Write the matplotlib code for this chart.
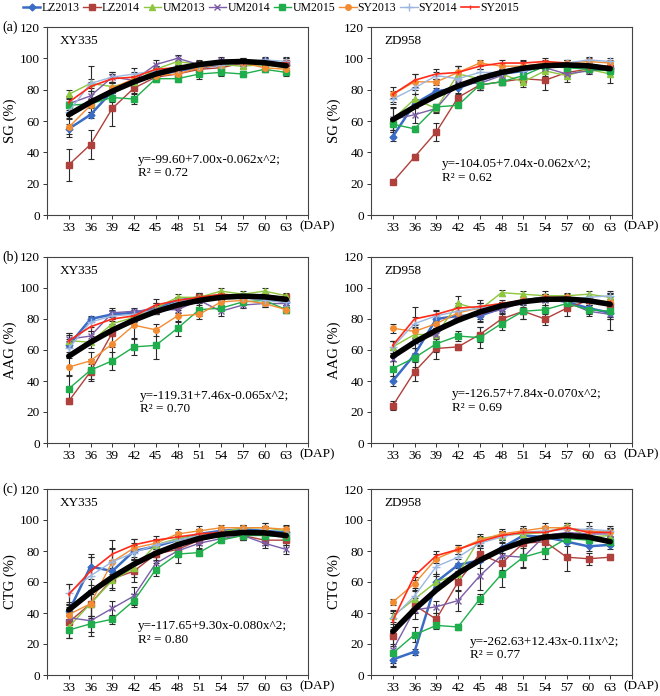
import matplotlib
matplotlib.use('Agg')
import matplotlib.pyplot as plt

plt.rcParams['font.family'] = ['Liberation Serif', 'DejaVu Serif']

# Days after pollination
dap = [33, 36, 39, 42, 45, 48, 51, 54, 57, 60, 63]

series = ['LZ2013', 'LZ2014', 'UM2013', 'UM2014', 'UM2015', 'SY2013', 'SY2014', 'SY2015']

# (a) SG - XY335
sg_xy = [
    [55, 64, 79, 85, 89, 92, 94, 96, 97, 98, 96],
    [32, 45, 68, 81, 88, 90, 93, 94, 97, 97, 97],
    [77, 84, 82, 85, 93, 98, 96, 96, 95, 96, 94],
    [71, 76, 88, 86, 96, 100, 96, 99, 97, 98, 95],
    [70, 71, 75, 74, 87, 87, 90, 91, 90, 93, 91],
    [56, 70, 81, 87, 89, 90, 94, 96, 97, 94, 93],
    [66, 84, 88, 90, 92, 93, 95, 96, 97, 99, 98],
    [72, 82, 87, 88, 93, 94, 97, 97, 97, 97, 97],
]
sg_xy_err = [
    [3, 2, 3, 3, 2, 2, 3, 2, 2, 2, 3],
    [10, 9, 11, 3, 2, 2, 3, 2, 2, 2, 3],
    [3, 3, 3, 3, 2, 2, 2, 2, 2, 2, 2],
    [4, 3, 3, 3, 3, 2, 2, 2, 2, 2, 2],
    [6, 3, 3, 3, 2, 2, 3, 2, 2, 2, 2],
    [6, 4, 3, 3, 2, 2, 3, 2, 2, 3, 3],
    [5, 11, 3, 4, 2, 2, 3, 2, 3, 2, 3],
    [4, 3, 3, 3, 2, 2, 2, 2, 3, 2, 3],
]
sg_xy_fit = [64, 72, 79, 85, 90, 93.5, 96, 97.6, 98, 97.2, 95.3]

# (a) SG - ZD958
sg_zd = [
    [50, 71, 79, 81, 86, 90, 92, 95, 95, 96, 94],
    [21, 37, 53, 75, 83, 85, 87, 86, 91, 93, 93],
    [61, 74, 68, 90, 87, 90, 85, 92, 89, 93, 90],
    [61, 64, 68, 84, 84, 89, 94, 94, 90, 92, 93],
    [58, 55, 69, 70, 83, 85, 89, 95, 94, 93, 92],
    [77, 85, 85, 91, 97, 95, 95, 97, 97, 98, 97],
    [74, 81, 89, 87, 91, 91, 92, 95, 97, 99, 98],
    [77, 86, 90, 91, 95, 97, 97, 98, 97, 94, 95],
]
sg_zd_err = [
    [3, 3, 2, 3, 2, 2, 2, 2, 2, 2, 2],
    [1, 2, 6, 2, 3, 2, 3, 6, 2, 2, 2],
    [7, 3, 2, 5, 2, 2, 3, 3, 4, 2, 6],
    [8, 5, 3, 3, 4, 2, 2, 2, 3, 2, 2],
    [4, 2, 2, 2, 3, 2, 2, 2, 2, 2, 2],
    [5, 5, 2, 4, 2, 2, 3, 2, 2, 2, 2],
    [3, 4, 2, 4, 2, 2, 2, 2, 2, 2, 2],
    [2, 4, 3, 4, 2, 2, 2, 2, 2, 2, 2],
]
sg_zd_fit = [60.8, 69, 76.2, 82.3, 87.2, 91, 93.7, 95.3, 95.8, 95.2, 93.4]

# (b) AAG - XY335
aag_xy = [
    [63, 80, 83, 84, 87, 92, 94, 95, 94, 93, 91],
    [27, 46, 71, 82, 86, 89, 94, 94, 94, 95, 94],
    [66, 65, 77, 81, 87, 94, 94, 98, 96, 98, 95],
    [67, 69, 84, 85, 86, 86, 92, 85, 89, 90, 90],
    [35, 47, 53, 62, 63, 74, 86, 87, 91, 92, 86],
    [49, 53, 64, 76, 73, 82, 83, 91, 92, 90, 86],
    [61, 78, 82, 83, 86, 91, 93, 94, 94, 92, 91],
    [66, 75, 80, 82, 89, 92, 94, 96, 95, 95, 93],
]
aag_xy_err = [
    [4, 2, 3, 2, 3, 2, 3, 2, 2, 2, 2],
    [2, 5, 9, 3, 3, 2, 3, 2, 2, 2, 2],
    [5, 4, 4, 3, 3, 2, 2, 2, 2, 2, 2],
    [4, 3, 3, 2, 3, 2, 3, 3, 2, 2, 2],
    [9, 7, 6, 5, 9, 5, 4, 2, 2, 2, 2],
    [6, 6, 9, 8, 4, 4, 3, 2, 2, 2, 2],
    [5, 3, 3, 2, 3, 2, 3, 3, 2, 2, 2],
    [4, 3, 3, 3, 4, 2, 2, 2, 2, 2, 2],
]
aag_xy_fit = [56, 65, 72.8, 79.3, 84.8, 89, 92, 94, 94.7, 94.3, 92.7]

# (b) AAG - ZD958
aag_zd = [
    [40, 57, 80, 82, 82, 87, 92, 94, 91, 87, 84],
    [24, 46, 61, 62, 70, 80, 85, 80, 87, 92, 89],
    [62, 70, 70, 90, 86, 97, 96, 95, 95, 96, 94],
    [54, 66, 70, 82, 83, 86, 91, 92, 91, 85, 83],
    [48, 55, 64, 69, 68, 77, 85, 86, 90, 86, 85],
    [74, 72, 77, 84, 87, 89, 92, 94, 94, 92, 91],
    [62, 77, 82, 85, 87, 89, 91, 93, 93, 94, 95],
    [63, 80, 83, 87, 88, 90, 92, 94, 93, 91, 91],
]
aag_zd_err = [
    [3, 4, 3, 3, 3, 2, 2, 2, 3, 2, 3],
    [3, 6, 7, 2, 5, 3, 5, 4, 5, 2, 9],
    [4, 5, 3, 5, 6, 2, 2, 3, 2, 2, 2],
    [6, 8, 4, 3, 5, 2, 3, 3, 2, 3, 3],
    [5, 6, 5, 3, 7, 4, 5, 3, 2, 3, 12],
    [3, 4, 3, 4, 3, 2, 2, 2, 2, 2, 3],
    [4, 4, 3, 3, 3, 2, 2, 2, 2, 2, 2],
    [3, 8, 3, 3, 2, 2, 2, 2, 2, 2, 2],
]
aag_zd_fit = [55.9, 65, 72.7, 79.2, 84.5, 88.5, 91.2, 92.7, 92.9, 91.8, 89.5]

# (c) CTG - XY335
ctg_xy = [
    [41, 70, 67, 80, 83, 87, 91, 93, 94, 93, 92],
    [34, 46, 62, 67, 78, 81, 87, 90, 90, 87, 87],
    [31, 46, 61, 69, 84, 88, 90, 92, 95, 95, 93],
    [37, 35, 43, 51, 72, 80, 85, 88, 90, 85, 81],
    [29, 33, 36, 48, 68, 78, 79, 87, 90, 90, 89],
    [39, 46, 73, 82, 85, 91, 93, 95, 95, 95, 94],
    [53, 64, 73, 79, 84, 87, 90, 92, 93, 92, 91],
    [52, 67, 78, 84, 87, 89, 91, 92, 92, 91, 89],
]
ctg_xy_err = [
    [5, 8, 7, 5, 3, 3, 3, 2, 2, 3, 3],
    [6, 9, 6, 7, 4, 4, 3, 2, 3, 3, 3],
    [7, 8, 6, 6, 3, 3, 3, 2, 2, 3, 3],
    [7, 10, 5, 6, 4, 4, 3, 2, 3, 3, 3],
    [5, 5, 3, 4, 4, 6, 2, 2, 3, 3, 3],
    [7, 8, 9, 6, 3, 3, 3, 2, 2, 3, 3],
    [6, 12, 8, 5, 3, 3, 3, 2, 2, 3, 3],
    [7, 9, 9, 4, 3, 3, 3, 2, 3, 5, 3],
]
ctg_xy_fit = [42, 53.3, 63.1, 71.5, 78.5, 84, 88.1, 90.7, 91.9, 91.7, 90]

# (c) CTG - ZD958
ctg_zd = [
    [10, 15, 60, 71, 74, 82, 90, 89, 86, 83, 84],
    [25, 45, 36, 60, 78, 72, 85, 86, 76, 75, 76],
    [38, 49, 60, 65, 88, 90, 91, 92, 96, 89, 90],
    [16, 42, 44, 48, 64, 77, 76, 90, 92, 91, 91],
    [14, 26, 32, 31, 49, 65, 76, 80, 88, 87, 86],
    [47, 59, 75, 81, 87, 91, 93, 95, 95, 93, 92],
    [37, 51, 70, 76, 85, 89, 92, 93, 94, 94, 93],
    [35, 64, 77, 81, 86, 90, 92, 92, 95, 92, 92],
]
ctg_zd_err = [
    [5, 2, 4, 4, 5, 3, 3, 3, 3, 3, 3],
    [6, 5, 4, 6, 4, 4, 7, 6, 9, 4, 2],
    [4, 5, 5, 4, 3, 3, 3, 3, 2, 3, 3],
    [10, 6, 4, 7, 9, 5, 6, 3, 3, 3, 3],
    [6, 5, 2, 2, 3, 8, 7, 5, 3, 3, 3],
    [2, 4, 3, 3, 3, 3, 3, 3, 3, 3, 3],
    [4, 5, 5, 4, 3, 3, 3, 3, 3, 5, 3],
    [5, 3, 3, 3, 3, 3, 3, 3, 3, 3, 3],
]
ctg_zd_fit = [28, 42.3, 54.8, 65.6, 74, 81, 86, 89, 90, 89, 86]

panel_tags = ['(a)', '(b)', '(c)']
ylabels = ['SG (%)', 'AAG (%)', 'CTG (%)']
cultivars = ['XY335', 'ZD958']
equations = [
    ['y=-99.60+7.00x-0.062x^2;\nR\u00b2 = 0.72', 'y=-104.05+7.04x-0.062x^2;\nR\u00b2 = 0.62'],
    ['y=-119.31+7.46x-0.065x^2;\nR\u00b2 = 0.70', 'y=-126.57+7.84x-0.070x^2;\nR\u00b2 = 0.69'],
    ['y=-117.65+9.30x-0.080x^2;\nR\u00b2 = 0.80', 'y=-262.63+12.43x-0.11x^2;\nR\u00b2 = 0.77'],
]
eq_pos = [[(42.5, 31), (39.8, 28)], [(42.8, 26), (41.2, 27)], [(42.6, 27), (43.7, 17)]]

data = [[sg_xy, sg_zd], [aag_xy, aag_zd], [ctg_xy, ctg_zd]]
errs = [[sg_xy_err, sg_zd_err], [aag_xy_err, aag_zd_err], [ctg_xy_err, ctg_zd_err]]
fits = [[sg_xy_fit, sg_zd_fit], [aag_xy_fit, aag_zd_fit], [ctg_xy_fit, ctg_zd_fit]]

colors = ['#3a6cc6', '#b0403c', '#8dc63f', '#7b5ea7', '#1fae4b', '#f28c33', '#9bb7e0', '#ff2a1a']
markers = ['D', 's', '^', 'x', 's', 'o', '+', '|']
msizes = [3.5, 4, 4, 4, 4.5, 4, 5.5, 3]
lwidths = [1.8, 1, 1, 1, 1, 1, 1, 1.2]

fig = plt.figure(figsize=(6.6, 6.96), dpi=100)

lefts = [47 / 660, 371 / 660]
width = 261 / 660
rows = [(1 - 215 / 696, 188 / 696), (1 - 443 / 696, 186 / 696), (1 - 675 / 696, 186 / 696)]

handles = []
for r in range(3):
    for c in range(2):
        ax = fig.add_axes([lefts[c], rows[r][0], width, rows[r][1]])
        for i in range(len(series)):
            ax.errorbar(dap, data[r][c][i], yerr=errs[r][c][i], fmt='none',
                        ecolor='#2a2a2a', elinewidth=0.8, capsize=2, capthick=0.8, zorder=2)
        for i, name in enumerate(series):
            ln, = ax.plot(dap, data[r][c][i], color=colors[i], marker=markers[i], ms=msizes[i],
                          lw=lwidths[i], mew=1, label=name, zorder=3)
            if r == 0 and c == 0:
                handles.append(ln)
        ax.plot(dap, fits[r][c], color='black', lw=4, solid_capstyle='round', zorder=4)

        ax.set_xlim(30, 66)
        ax.set_ylim(0, 120)
        ax.set_xticks(range(30, 67, 3))
        ax.set_xticklabels([''] + [str(d) for d in dap] + [''])
        ax.set_yticks(range(0, 121, 20))
        ax.tick_params(direction='out', length=3, width=0.7, labelsize=9.5, pad=2, colors='#333333',
                       labelcolor='black')
        for sp in ax.spines.values():
            sp.set_linewidth(0.8)
            sp.set_color('#444444')
        ax.set_ylabel(ylabels[r], fontsize=10.5)
        ax.yaxis.set_label_coords(-0.115, 0.5)
        ax.text(0.05, 0.925, cultivars[c], transform=ax.transAxes, fontsize=9.5, va='center')
        ax.text(eq_pos[r][c][0], eq_pos[r][c][1], equations[r][c], fontsize=9.5,
                va='center', ha='left', linespacing=1.15)
        ax.text(64.8, -3.5, '(DAP)', fontsize=9.5, va='top', ha='left', clip_on=False)
        if c == 0:
            ax.text(-0.17, 1.0, panel_tags[r], transform=ax.transAxes, fontsize=10, va='center')

fig.legend(handles=handles, loc='center', bbox_to_anchor=(0.41, 0.988), ncol=8, frameon=False,
           fontsize=8.5, handlelength=1.5, handletextpad=0.1, columnspacing=0.3, borderaxespad=0,
           borderpad=0)

fig.savefig('out.png', dpi=100)
